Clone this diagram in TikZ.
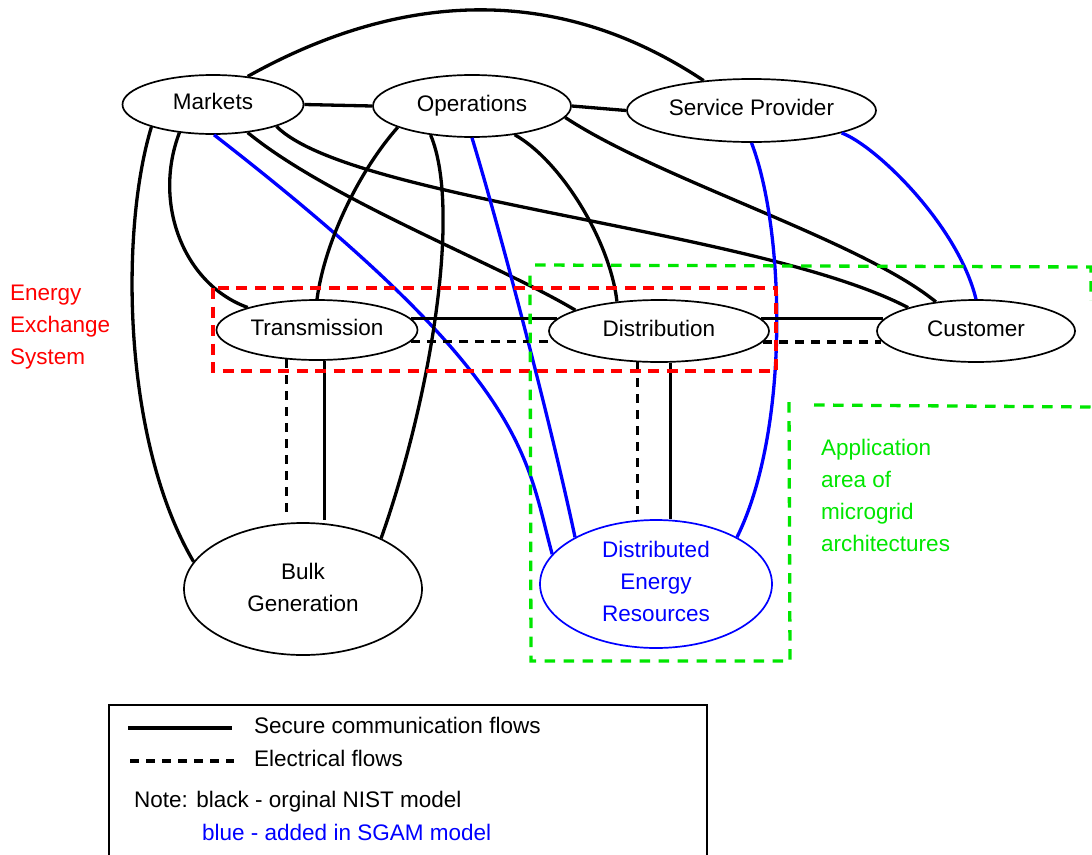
\documentclass[tikz,border=0pt]{standalone}
\usepackage{fontspec}
\setmainfont{Liberation Sans}
\usetikzlibrary{shapes.geometric,calc}
\definecolor{mgreen}{RGB}{0,230,0}
\newcommand\diagfont{\fontsize{22.5}{32}\selectfont}
\newcommand\lowstrut[1]{\rule[-#1]{0pt}{#1}}
\begin{document}
\begin{tikzpicture}[x=1pt,y=-1pt,font=\diagfont,
  gridnode/.style={ellipse,draw,line width=1.7pt,fill=white,inner sep=0pt},
  oneline/.style={text height=16.1pt,text depth=6pt},
  comm/.style={line width=3.3pt},
  elec/.style={line width=3.3pt,dash pattern=on 9pt off 7pt},
  sgam/.style={line width=3.3pt,blue},
  eesbox/.style={red,line width=3.3pt,dash pattern=on 11pt off 7.5pt},
  mgbox/.style={mgreen,line width=3.3pt,dash pattern=on 10.5pt off 8.5pt},
  legtext/.style={anchor=base west,inner sep=0pt}]
\useasboundingbox (0,0) rectangle (1092,854);

% grid domains
\node[gridnode,oneline,minimum width=181pt,minimum height=59pt] (markets) at (213,104.5) {Markets};
\node[gridnode,oneline,minimum width=198pt,minimum height=62pt] (ops) at (472,106) {Operations};
\node[gridnode,oneline,minimum width=249pt,minimum height=63pt] (sp) at (751.5,110.5) {Service Provider};
\node[gridnode,oneline,minimum width=201pt,minimum height=60pt] (trans) at (317,330) {Transmission};
\node[gridnode,oneline,minimum width=220pt,minimum height=62pt] (dist) at (659,331) {Distribution};
\node[gridnode,oneline,minimum width=198pt,minimum height=62pt] (cust) at (976,331) {Customer};
\node[gridnode,align=center,minimum width=238pt,minimum height=132pt] (bulk) at (303,589) {Bulk\\Generation\lowstrut{4pt}};
\node[gridnode,draw=blue,text=blue,align=center,minimum width=232pt,minimum height=128pt] (der) at (656,584) {Distributed\\Energy\\Resources\lowstrut{6pt}};

% communication flows
\draw[comm] (markets.east) -- (ops.west);
\draw[comm] (ops.east) -- (sp.west);
\draw[comm] (markets.39) .. controls (397,-7) and (554,-19) .. (sp.148);
\draw[comm] (markets.-140) .. controls (152,205) and (185,285) .. (trans.162);
\draw[comm] (markets.-160) .. controls (120,230) and (122,440) .. (bulk.166);
\draw[sgam] (markets.-88) .. controls (530,380) and (525,455) .. (der.164);
\draw[comm] (markets.-39) .. controls (330,200) and (500,265) .. (dist.166);
\draw[comm] (markets.-19) .. controls (350,200) and (760,230) .. (cust.161);
\draw[comm] (ops.-164) .. controls (360,170) and (325,240) .. (trans.90);
\draw[comm] (ops.-145) .. controls (462,210) and (430,400) .. (bulk.33);
\draw[sgam] (ops.-90) .. controls (500,230) and (550,420) .. (der.150);
\draw[comm] (ops.-34) .. controls (560,160) and (610,240) .. (dist.145);
\draw[comm] (ops.-7) .. controls (660,180) and (860,240) .. (cust.144);
\draw[sgam] (sp.-90) .. controls (785,230) and (790,430) .. (der.30);
\draw[sgam] (sp.-14) .. controls (875,145) and (958,225) .. (cust.90);

% horizontal links between the grid domains
\draw[comm] (trans.7) -- (trans.7 -| dist.173);
\draw[elec] (trans.-7) -- (trans.-7 -| dist.-174);
\draw[comm] (dist.7) -- (dist.7 -| cust.173);
\draw[elec] (dist.-6) -- (dist.-6 -| cust.-174);

% vertical links down to generation
\draw[elec,shorten >=7pt] (trans.-136) -- (trans.-136 |- bulk.north);
\draw[comm,line width=2.8pt,shorten >=2pt] (trans.-77) -- (trans.-77 |- bulk.north);
\draw[elec,shorten >=5pt] (dist.-125) -- (dist.-125 |- der.north);
\draw[comm,line width=2.8pt] (dist.-70) -- (dist.-70 |- der.north);

% system boundaries
\draw[eesbox] (213,288) rectangle (776,371);
\draw[mgbox] (789,402) -- (790,661) -- (531,661) -- (530,272);
\draw[mgbox] (535,265) -- (1091,267) -- (1091,300);
\draw[mgbox] (814,405) -- (1092,407);

\node[red,anchor=north west,align=left,inner sep=0pt] (ees) at (10,285) {Energy\\Exchange\\System};
\node[mgreen,anchor=north west,align=left,inner sep=0pt] (mgarea) at (821,438.6) {Application\\area of\\microgrid\\architectures};

% legend
\draw[line width=1.7pt] (109,870) -- (109,705) -- (707,705) -- (707,870);
\coordinate (ls1) at (128,728);
\coordinate (le1) at (232,728);
\coordinate (ls2) at (130,761);
\coordinate (le2) at (234,761);
\draw[comm] (ls1) -- (le1);
\draw[elec] (ls2) -- (le2);
\node[legtext] (lcomm) at (254,733) {Secure communication flows};
\node[legtext] (lelec) at (254,766) {Electrical flows};
\node[legtext] (lnote) at (134,807) {Note: black - orginal NIST model};
\node[legtext,blue] (lblue) at (202,840) {blue - added in SGAM model};
\end{tikzpicture}
\end{document}
